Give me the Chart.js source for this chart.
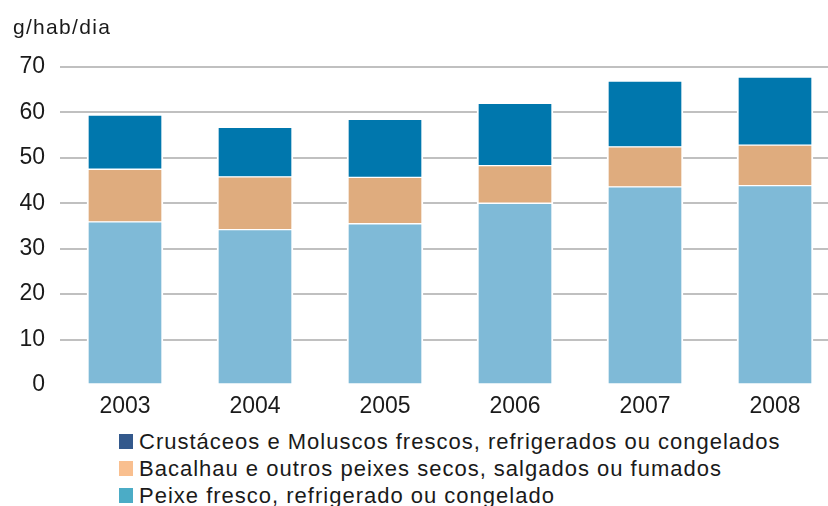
<!DOCTYPE html>
<html>
<head>
<meta charset="utf-8">
<script src="https://cdn.jsdelivr.net/npm/chart.js@4/dist/chart.umd.min.js"></script>
<style>
  html, body { margin: 0; padding: 0; background: #fff; overflow: hidden; width: 828px; height: 506px; }
  #wrap { position: absolute; left: 0; top: 0; width: 845px; height: 420px; }
  #title { position: absolute; left: 13px; top: 15px; font: 21px "Liberation Sans", Arial, sans-serif; letter-spacing: 1.3px; color: #1a1a1a; }
  #legend { position: absolute; left: 119px; top: 428px; font: 22px "Liberation Sans", Arial, sans-serif; letter-spacing: 1px; color: #1a1a1a; }
  .row { height: 27px; display: flex; align-items: center; white-space: nowrap; }
  .box { width: 14px; height: 15px; margin-right: 6px; flex: none; }
</style>
</head>
<body>
<div id="wrap"><canvas id="c" width="845" height="420"></canvas></div>
<div id="title">g/hab/dia</div>
<div id="legend"></div>
<script>
const categories = ["2003", "2004", "2005", "2006", "2007", "2008"];
const peixeFresco = [35.9, 34.2, 35.5, 40.0, 43.6, 43.9];
const bacalhau = [11.6, 11.6, 10.2, 8.3, 8.8, 8.9];
const crustaceos = [11.9, 10.9, 12.8, 13.7, 14.5, 15.0];
const seriesNames = [
  "Peixe fresco, refrigerado ou congelado",
  "Bacalhau e outros peixes secos, salgados ou fumados",
  "Crustáceos e Moluscos frescos, refrigerados ou congelados"
];
const barColors = ["#7FBAD7", "#DFAC7E", "#0077AD"];
const legendColors = ["#4BACC6", "#F9BF8F", "#33598C"];
const yTicks = [0, 10, 20, 30, 40, 50, 60, 70];

const seriesData = [peixeFresco, bacalhau, crustaceos];
const datasets = seriesData.map((d, i) => ({
  label: seriesNames[i],
  data: d,
  backgroundColor: barColors[i],
  borderColor: "#ffffff",
  borderWidth: { left: 2, right: 2, top: 1, bottom: 1 },
  borderSkipped: false,
  barThickness: 76
}));

new Chart(document.getElementById("c"), {
  type: "bar",
  data: { labels: categories, datasets },
  options: {
    responsive: false,
    animation: false,
    layout: { padding: { top: 67, right: 5, left: 0, bottom: 0 } },
    plugins: { legend: { display: false }, tooltip: { enabled: false }, title: { display: false } },
    scales: {
      x: {
        stacked: true,
        grid: { display: false },
        border: { display: false },
        ticks: { color: "#1a1a1a", font: { family: "Liberation Sans", size: 23 }, padding: 0 },
        afterFit: (s) => { s.height = 35; }
      },
      y: {
        stacked: true,
        min: 0, max: 70,
        afterBuildTicks: (s) => { s.ticks = yTicks.map(v => ({ value: v })); },
        grid: {
          color: (ctx) => (ctx.tick && ctx.tick.value === 0 ? "rgba(0,0,0,0)" : "#C0C0C0"),
          lineWidth: 2,
          drawTicks: false
        },
        border: { display: false },
        ticks: { color: "#1a1a1a", font: { family: "Liberation Sans", size: 23 }, padding: 15 },
        afterFit: (s) => { s.width = 60; }
      }
    }
  }
});

const leg = document.getElementById("legend");
[2, 1, 0].forEach(i => {
  const row = document.createElement("div");
  row.className = "row";
  const box = document.createElement("span");
  box.className = "box";
  box.style.background = legendColors[i];
  const txt = document.createElement("span");
  txt.textContent = seriesNames[i];
  row.appendChild(box);
  row.appendChild(txt);
  leg.appendChild(row);
});
</script>
</body>
</html>
